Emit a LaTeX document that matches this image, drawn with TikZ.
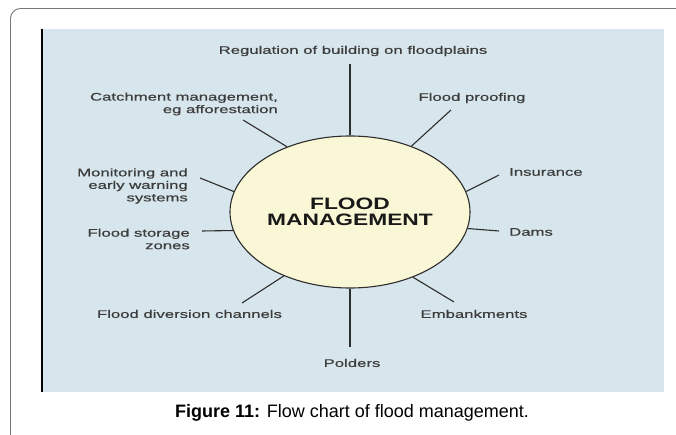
\documentclass[tikz,border=0pt]{standalone}
\usepackage{fontspec}
\setmainfont{Liberation Sans}
\newfontfamily\lblfont[FakeStretch=1.52,FakeBold=0.6]{Liberation Sans}
\newfontfamily\hubfont[FakeStretch=1.38]{Liberation Sans}
\usepackage{tikz}
\usetikzlibrary{shapes.geometric}
\definecolor{panelc}{RGB}{215,230,236}
\definecolor{hubc}{RGB}{250,247,214}
\definecolor{labc}{RGB}{60,60,60}
\definecolor{spkc}{RGB}{45,45,45}
\definecolor{framec}{RGB}{120,120,120}

\begin{document}
\begin{tikzpicture}[x=1pt,y=-1pt]
\tikzstyle{lbl}=[text=labc,inner sep=0pt,font={\lblfont\fontsize{11}{12.5}\selectfont}]
\tikzstyle{spoke}=[draw=spkc,line width=1.1pt]
\useasboundingbox (0,0) rectangle (676,435);
% page frame and blue panel
\draw[framec,line width=0.9pt,rounded corners=10pt] (10.5,436) -- (10.5,8.5) -- (677,8.5);
\fill[panelc] (41,29) rectangle (664,392);
\draw[line width=2.5pt] (42.2,29) -- (42.2,392);
% hub
\node[ellipse,draw=spkc,line width=1.1pt,fill=hubc,minimum width=240pt,minimum height=152pt,inner sep=0pt,
  align=center,font={\hubfont\bfseries\fontsize{16.5}{15.5}\selectfont},text=black!90] (fm) at (350,212) {FLOOD\\MANAGEMENT};
% labels
\node[lbl] (reg) at (353,51) {Regulation of building on floodplains};
\node[lbl] (proof) at (472,98) {Flood proofing};
\node[lbl,anchor=west] (insur) at (509,172) {Insurance};
\node[lbl,anchor=west] (dams) at (509,232) {Dams};
\node[lbl] (emb) at (474,314) {Embankments};
\node[lbl] (pold) at (352,363) {Polders};
\node[lbl] (divert) at (189.5,314) {Flood diversion channels};
\node[lbl,anchor=east,align=right] (store) at (190,239) {Flood storage\\zones};
\node[lbl,anchor=east,align=right] (monit) at (188,186) {Monitoring and\\early warning\\systems};
\node[lbl,anchor=east,align=right] (catch) at (278,104) {Catchment management,\\eg afforestation};
% outer ends of the spokes
\coordinate (reg-e) at (350,64);   \coordinate (proof-e) at (451,110);
\coordinate (insur-e) at (499,175); \coordinate (dams-e) at (499,231);
\coordinate (emb-e) at (454,302);  \coordinate (pold-e) at (350,347);
\coordinate (divert-e) at (242,303); \coordinate (store-e) at (202,231);
\coordinate (monit-e) at (200,178); \coordinate (catch-e) at (243,120);
\draw[spoke] (fm.90)--(reg-e); \draw[spoke] (fm.47)--(proof-e); \draw[spoke] (fm.10)--(insur-e);
\draw[spoke] (fm.-8)--(dams-e); \draw[spoke] (fm.-46)--(emb-e); \draw[spoke] (fm.270)--(pold-e);
\draw[spoke] (fm.224)--(divert-e); \draw[spoke] (fm.189)--(store-e); \draw[spoke] (fm.170)--(monit-e);
\draw[spoke] (fm.134)--(catch-e);
% caption
\node[font=\fontsize{18}{20}\selectfont] (cap) at (352,413) {\textbf{Figure 11:} Flow chart of flood management.};
\end{tikzpicture}
\end{document}
